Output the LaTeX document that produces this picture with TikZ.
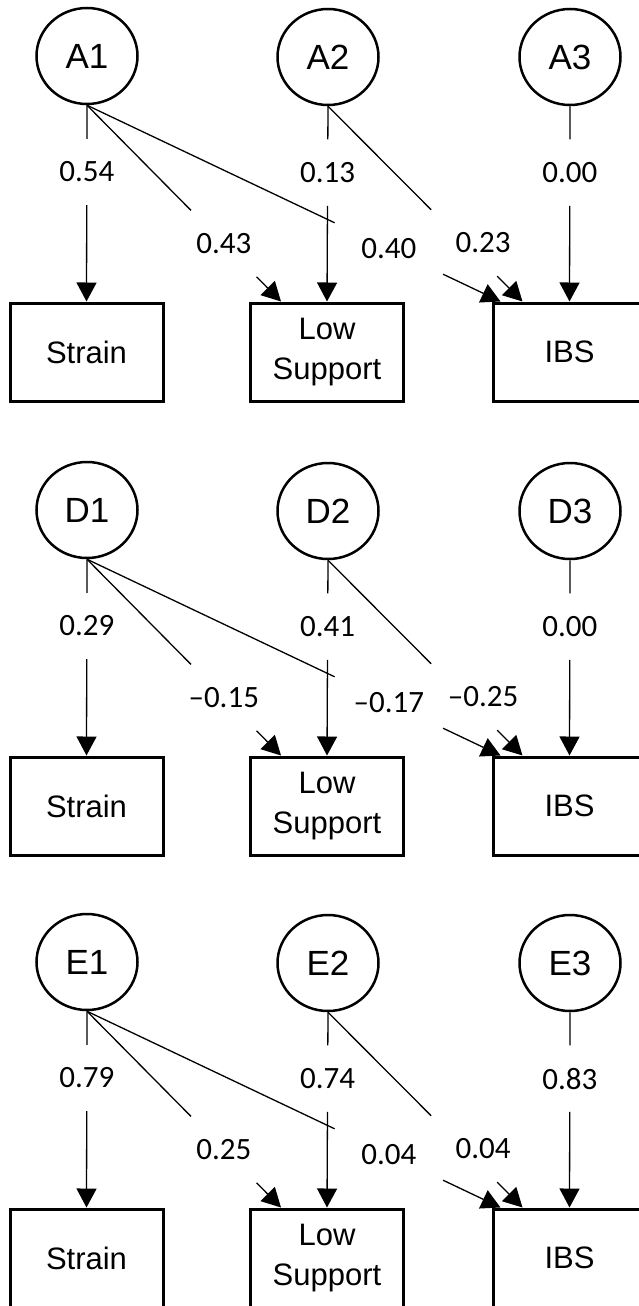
\documentclass[tikz,border=0pt]{standalone}
\usepackage{fontspec}
\setmainfont{Liberation Sans}
\newfontfamily\numfont{Carlito}
\usetikzlibrary{arrows.meta,shapes.geometric}

\tikzset{
  latent/.style={draw, ellipse, line width=2.5pt, minimum width=101pt,
    minimum height=96pt, inner sep=0pt, font=\fontsize{35}{40}\selectfont},
  observed/.style={draw, rectangle, line width=3pt, minimum width=153pt,
    minimum height=98pt, inner sep=0pt, align=center,
    font=\fontsize{31}{40}\selectfont},
  coef/.style={minimum width=108pt, minimum height=66pt, inner sep=0pt,
    font=\numfont\fontsize{31}{36}\selectfont},
  stem/.style={line width=1.3pt},
  arr/.style={line width=1.3pt, -{Triangle[length=19pt,width=20pt]}}
}

\begin{document}
\begin{tikzpicture}[x=1pt,y=-1pt]
  \useasboundingbox (0,0) rectangle (638,1306);

  % additive genetic
  \node[latent] (a1) at (87,56) {A1};
  \node[latent] (a2) at (328,57) {A2};
  \node[latent] (a3) at (570,57) {A3};
  \node[observed] (strA) at (86.5,352) {Strain};
  \node[observed] (lowA) at (327,352) {Low\\Support};
  \node[observed] (ibsA) at (569.5,352) {IBS};
  \coordinate (lowA1) at ([xshift=32pt]lowA.north west);
  \coordinate (ibsA1) at ([xshift=9pt]ibsA.north west);
  \coordinate (ibsA2) at ([xshift=31pt]ibsA.north west);
  \path (a1.south) -- (strA.north) node[coef,pos=.34] (ca11) {0.54}
        (a1.south) -- (lowA1) node[coef,pos=.705] (ca12) {0.43}
        (a1.south) -- (ibsA1) node[coef,pos=.73] (ca13) {0.40}
        (a2.south) -- (lowA.north) node[coef,pos=.34] (ca22) {0.13}
        (a2.south) -- (ibsA2) node[coef,pos=.70] (ca23) {\hspace*{38pt}0.23}
        (a3.south) -- (ibsA.north) node[coef,pos=.34] (ca33) {0.00};
  \draw[stem] (a1.south) -- (ca11);
  \draw[arr] (ca11) -- (strA.north);
  \draw[stem] (a1.south) -- (ca12);
  \draw[arr] (ca12) -- (lowA1);
  \draw[stem] (a1.south) -- (ca13);
  \draw[arr] (ca13) -- (ibsA1);
  \draw[stem] (a2.south) -- (ca22);
  \draw[arr] (ca22) -- (lowA.north);
  \draw[stem] (a2.south) -- (ca23);
  \draw[arr] (ca23) -- (ibsA2);
  \draw[stem] (a3.south) -- (ca33);
  \draw[arr] (ca33) -- (ibsA.north);

  % dominance
  \begin{scope}[yshift=-454pt]
  \node[latent] (d1) at (87,56) {D1};
  \node[latent] (d2) at (328,57) {D2};
  \node[latent] (d3) at (570,57) {D3};
  \node[observed] (strD) at (86.5,352) {Strain};
  \node[observed] (lowD) at (327,352) {Low\\Support};
  \node[observed] (ibsD) at (569.5,352) {IBS};
  \coordinate (lowD1) at ([xshift=32pt]lowD.north west);
  \coordinate (ibsD1) at ([xshift=9pt]ibsD.north west);
  \coordinate (ibsD2) at ([xshift=31pt]ibsD.north west);
  \path (d1.south) -- (strD.north) node[coef,pos=.34] (cd11) {0.29}
        (d1.south) -- (lowD1) node[coef,pos=.705] (cd12) {–0.15}
        (d1.south) -- (ibsD1) node[coef,pos=.73] (cd13) {–0.17}
        (d2.south) -- (lowD.north) node[coef,pos=.34] (cd22) {0.41}
        (d2.south) -- (ibsD2) node[coef,pos=.70] (cd23) {\hspace*{38pt}–0.25}
        (d3.south) -- (ibsD.north) node[coef,pos=.34] (cd33) {0.00};
  \draw[stem] (d1.south) -- (cd11);
  \draw[arr] (cd11) -- (strD.north);
  \draw[stem] (d1.south) -- (cd12);
  \draw[arr] (cd12) -- (lowD1);
  \draw[stem] (d1.south) -- (cd13);
  \draw[arr] (cd13) -- (ibsD1);
  \draw[stem] (d2.south) -- (cd22);
  \draw[arr] (cd22) -- (lowD.north);
  \draw[stem] (d2.south) -- (cd23);
  \draw[arr] (cd23) -- (ibsD2);
  \draw[stem] (d3.south) -- (cd33);
  \draw[arr] (cd33) -- (ibsD.north);
  \end{scope}

  % unique environment
  \begin{scope}[yshift=-906pt]
  \node[latent] (e1) at (87,56) {E1};
  \node[latent] (e2) at (328,57) {E2};
  \node[latent] (e3) at (570,57) {E3};
  \node[observed] (strE) at (86.5,352) {Strain};
  \node[observed] (lowE) at (327,352) {Low\\Support};
  \node[observed] (ibsE) at (569.5,352) {IBS};
  \coordinate (lowE1) at ([xshift=32pt]lowE.north west);
  \coordinate (ibsE1) at ([xshift=9pt]ibsE.north west);
  \coordinate (ibsE2) at ([xshift=31pt]ibsE.north west);
  \path (e1.south) -- (strE.north) node[coef,pos=.34] (ce11) {0.79}
        (e1.south) -- (lowE1) node[coef,pos=.705] (ce12) {0.25}
        (e1.south) -- (ibsE1) node[coef,pos=.73] (ce13) {0.04}
        (e2.south) -- (lowE.north) node[coef,pos=.34] (ce22) {0.74}
        (e2.south) -- (ibsE2) node[coef,pos=.70] (ce23) {\hspace*{38pt}0.04}
        (e3.south) -- (ibsE.north) node[coef,pos=.34] (ce33) {0.83};
  \draw[stem] (e1.south) -- (ce11);
  \draw[arr] (ce11) -- (strE.north);
  \draw[stem] (e1.south) -- (ce12);
  \draw[arr] (ce12) -- (lowE1);
  \draw[stem] (e1.south) -- (ce13);
  \draw[arr] (ce13) -- (ibsE1);
  \draw[stem] (e2.south) -- (ce22);
  \draw[arr] (ce22) -- (lowE.north);
  \draw[stem] (e2.south) -- (ce23);
  \draw[arr] (ce23) -- (ibsE2);
  \draw[stem] (e3.south) -- (ce33);
  \draw[arr] (ce33) -- (ibsE.north);
  \end{scope}
\end{tikzpicture}
\end{document}
